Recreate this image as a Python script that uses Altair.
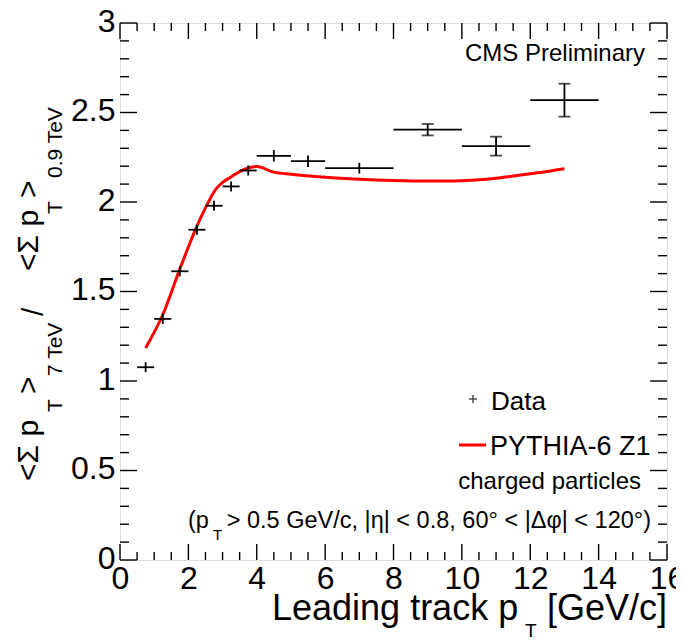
import altair as alt
import pandas as pd

# ---------------- data ----------------
data_pt = [0.75, 1.25, 1.75, 2.25, 2.75, 3.25, 3.75, 4.5, 5.5, 7.0, 9.0, 11.0, 13.0]
data_lo = [0.5, 1.0, 1.5, 2.0, 2.5, 3.0, 3.5, 4.0, 5.0, 6.0, 8.0, 10.0, 12.0]
data_hi = [1.0, 1.5, 2.0, 2.5, 3.0, 3.5, 4.0, 5.0, 6.0, 8.0, 10.0, 12.0, 14.0]
data_ratio = [1.077, 1.347, 1.613, 1.845, 1.979, 2.087, 2.176, 2.258, 2.228, 2.189, 2.404, 2.312, 2.569]
data_err = [0.028, 0.028, 0.028, 0.028, 0.028, 0.028, 0.028, 0.032, 0.032, 0.03, 0.032, 0.053, 0.092]
data_cap = [0, 0, 0, 0, 0, 0, 0, 0, 0, 0, 1, 1, 1]

mc_pt = [0.75, 1.25, 1.75, 2.25, 2.6, 2.8, 3.0, 3.25, 3.5, 3.75, 4.0, 4.5, 5.0, 6.0,
         7.0, 8.0, 9.0, 9.5, 10.0, 10.5, 11.0, 11.5, 12.0, 12.5, 13.0]
mc_ratio = [1.185, 1.37, 1.625, 1.865, 2.005, 2.07, 2.11, 2.14, 2.17, 2.19, 2.198, 2.167,
            2.155, 2.138, 2.127, 2.12, 2.117, 2.117, 2.119, 2.124, 2.133, 2.145, 2.158, 2.171, 2.186]

x_major = [0, 2, 4, 6, 8, 10, 12, 14, 16]
x_minor = [v * 0.5 for v in range(33) if v % 4 != 0]
y_major = [0, 0.5, 1, 1.5, 2, 2.5, 3]
y_minor = [round(v * 0.1, 2) for v in range(31) if v % 5 != 0]

# ---------------- layout ----------------
W, H = 547, 537
FONT = "Liberation Sans"

df = pd.DataFrame({"x": data_pt, "xlo": data_lo, "xhi": data_hi, "y": data_ratio,
                   "ylo": [a - b for a, b in zip(data_ratio, data_err)],
                   "yhi": [a + b for a, b in zip(data_ratio, data_err)],
                   "cap": data_cap})
mc = pd.DataFrame({"x": mc_pt, "y": mc_ratio})
one = pd.DataFrame({"a": [0]})

xs = alt.Scale(domain=[0, 16], nice=False, zero=False)
ys = alt.Scale(domain=[0, 3], nice=False, zero=False)
xaxis = alt.Axis(values=x_major, title=None, domain=False, ticks=False, grid=False,
                 labelFontSize=32, labelPadding=3, labelColor="black", labelFont=FONT,
                 labelFlush=False, labelOverlap=False)
yaxis = alt.Axis(values=y_major, title=None, domain=False, ticks=False, grid=False,
                 labelFontSize=32, labelPadding=5, labelColor="black", labelFont=FONT,
                 labelExpr="datum.value + ''", labelOffset=-2, labelFlush=False,
                 labelOverlap=False)


def X(f):
    return alt.X(f"{f}:Q", scale=xs, axis=xaxis)


def Y(f):
    return alt.Y(f"{f}:Q", scale=ys, axis=yaxis)


layers = []

# inward ticks on all four sides
for vals, ln in ((x_major, 16), (x_minor, 8)):
    t = pd.DataFrame({"x": vals})
    layers.append(alt.Chart(t).mark_rule(color="black", strokeWidth=1.4).encode(
        x=X("x"), y=alt.value(H), y2=alt.value(H - ln)))
    layers.append(alt.Chart(t).mark_rule(color="black", strokeWidth=1.4).encode(
        x=X("x"), y=alt.value(0), y2=alt.value(ln)))
for vals, ln in ((y_major, 17), (y_minor, 9)):
    t = pd.DataFrame({"y": vals})
    layers.append(alt.Chart(t).mark_rule(color="black", strokeWidth=1.4).encode(
        y=Y("y"), x=alt.value(0), x2=alt.value(ln)))
    layers.append(alt.Chart(t).mark_rule(color="black", strokeWidth=1.4).encode(
        y=Y("y"), x=alt.value(W), x2=alt.value(W - ln)))

# PYTHIA curve
layers.append(alt.Chart(mc).mark_line(color="#ff0000", strokeWidth=3, interpolate="monotone")
              .encode(x=X("x"), y=Y("y")))

# data points: horizontal and vertical bars, caps
layers.append(alt.Chart(df).mark_rule(color="black", strokeWidth=1.8).encode(
    x=X("xlo"), x2="xhi", y=Y("y")))
layers.append(alt.Chart(df).mark_rule(color="black", strokeWidth=1.8).encode(
    x=X("x"), y=Y("ylo"), y2="yhi"))
caps = alt.Chart(df).transform_filter("datum.cap == 1")
layers.append(caps.mark_tick(color="black", orient="horizontal", size=12, thickness=1.8)
              .encode(x=X("x"), y=Y("ylo")))
layers.append(caps.mark_tick(color="black", orient="horizontal", size=12, thickness=1.8)
              .encode(x=X("x"), y=Y("yhi")))


def txt(text, x, y, size, align="left", angle=0, baseline="alphabetic"):
    return alt.Chart(one).mark_text(text=text, fontSize=size, align=align, baseline=baseline,
                                    angle=angle, color="black", font=FONT).encode(
        x=alt.value(x), y=alt.value(y))


# legend
layers.append(alt.Chart(one).mark_point(shape="M-1,0L1,0M0,-1L0,1", size=64, filled=False,
                                        stroke="black", strokeWidth=1.5)
              .encode(x=alt.value(353), y=alt.value(376)))
layers.append(txt("Data", 371, 387, 26))
layers.append(alt.Chart(one).mark_rule(color="#ff0000", strokeWidth=3).encode(
    x=alt.value(339), x2=alt.value(366), y=alt.value(422)))
layers.append(txt("PYTHIA-6 Z1", 370, 432, 27))
layers.append(txt("charged particles", 521, 466, 24, align="right"))
layers.append(txt("(p", 68, 505, 23.5))
layers.append(txt("T", 93, 517, 15))
layers.append(txt(" > 0.5 GeV/c, |\u03b7| < 0.8, 60\u00b0 < |\u0394\u03c6| < 120\u00b0)", 531, 505, 23.5,
                  align="right"))
layers.append(txt("CMS Preliminary", 525, 38, 24, align="right"))

# x title
layers.append(txt("Leading track p", 152, 597, 36))
layers.append(txt("T", 405, 614, 19))
layers.append(txt(" [GeV/c]", 547, 597, 36, align="right"))

# y title (rotated, composed with subscripts)
MB, SB = -82, -58
layers.append(txt("<\u03a3 p", MB, 458, 30, angle=270))
layers.append(txt("T", SB, 389, 21, angle=270))
layers.append(txt(">", MB, 371, 30, angle=270))
layers.append(txt("7 TeV", SB, 353, 21, angle=270))
layers.append(txt("/", -77, 293, 30, angle=270))
layers.append(txt("<\u03a3 p", MB, 248, 30, angle=270))
layers.append(txt("T", SB, 191, 21, angle=270))
layers.append(txt(">", MB, 175, 30, angle=270))
layers.append(txt("0.9 TeV", SB, 155, 21, angle=270))

chart = alt.layer(*layers).properties(
    width=W, height=H,
    autosize=alt.AutoSizeParams(type="none"),
    padding={"left": 112, "top": 15, "right": 9, "bottom": 80},
).configure_view(stroke="black", strokeWidth=1.6).configure(font=FONT)

chart.save("out.html", embed_options={"renderer": "svg", "actions": False})
